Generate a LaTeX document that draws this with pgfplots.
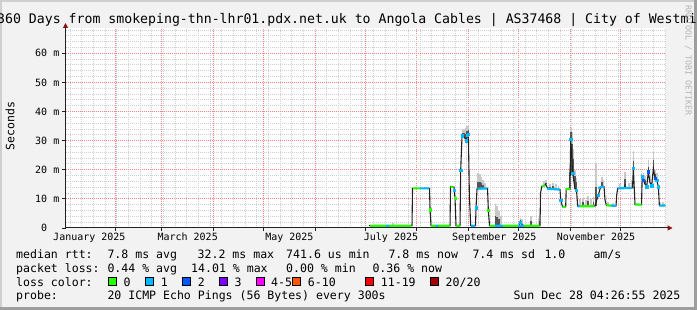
\documentclass[border=0pt]{standalone}
\usepackage{pgfplots}
\pgfplotsset{compat=1.18}
\usepackage{fontspec}
\setmainfont{DejaVu Sans Mono}
\usetikzlibrary{arrows.meta}
\definecolor{backc}{HTML}{F2F2F2}
\definecolor{shadea}{HTML}{CFCFCF}
\definecolor{shadeb}{HTML}{9E9E9E}
\definecolor{gridc}{HTML}{D0D0D0}
\definecolor{mgridc}{HTML}{F08888}
\definecolor{axisc}{HTML}{202020}
\definecolor{arrowc}{HTML}{8B1010}
\definecolor{l0}{HTML}{26FF00}
\definecolor{l1}{HTML}{00B8FF}
\definecolor{l2}{HTML}{0059FF}
\definecolor{l3}{HTML}{7E00FF}
\definecolor{l45}{HTML}{FF00FF}
\definecolor{l610}{HTML}{FF5500}
\definecolor{l1119}{HTML}{FF0000}
\definecolor{l20}{HTML}{A10000}
\definecolor{smokeL}{HTML}{C8C8C8}
\definecolor{smokeD}{HTML}{555555}
\definecolor{wmark}{HTML}{B4B4B4}
\pgfplotsset{rrdframe/.style={
  at={(65.5pt,82pt)}, anchor=south west,
  scale only axis, width=600pt, height=200pt,
  xmin=1.185, xmax=361.185, ymin=0, ymax=68.68,
  tick align=outside, tick pos=left,
  /pgf/number format/assume math mode=true,
  tick label style={font=\fontsize{10}{12}\selectfont, inner sep=0pt},
}}
\begin{document}
\begin{tikzpicture}[x=1pt,y=1pt]
\useasboundingbox (0,0) rectangle (697,310);
\fill[backc] (0,0) rectangle (697,310);
\fill[shadea] (0,0) rectangle (2,310);
\fill[shadea] (0,308) rectangle (697,310);
\fill[shadeb] (694,0) rectangle (697,310);
\fill[shadeb] (0,0) rectangle (697,3);
% grid axis: month lines (red), weekly lines (grey), 10 ms (red), 2 ms (grey)
\begin{axis}[rrdframe,
  axis background/.style={fill=white},
  axis line style={draw=none},
  xtick={31,59,90,120,151,181,212,243,273,304,334},
  minor xtick={4,11,...,361},
  ytick={0,10,...,60},
  minor ytick={2,4,...,68},
  xticklabels={}, yticklabels={},
  grid=both,
  major grid style={draw=mgridc, line width=1pt, dash pattern=on 1pt off 1pt},
  minor grid style={draw=gridc, line width=0.9pt, dash pattern=on 1pt off 1pt},
  major tick length=3pt, minor tick length=0pt,
  tick style={draw=axisc, line width=0.8pt},
]
\addplot[draw=none, forget plot] coordinates {(100,1) (200,2)};
\end{axis}
% data axis
\begin{axis}[rrdframe,
  axis lines=left,
  axis line style={draw=axisc, line width=1pt},
  every outer x axis line/.append style={-{Triangle[length=5pt,width=5pt,color=arrowc]}, shorten >=-7pt},
  every outer y axis line/.append style={-{Triangle[length=5pt,width=5pt,color=arrowc]}, shorten >=-5pt},
  xtick={15.5,74.5,135.5,196.5,258.5,319.5},
  xticklabels={January 2025,March 2025,May 2025,July 2025,September 2025,November 2025},
  ytick={0,10,...,60},
  yticklabels={0\hphantom{ m},10 m,20 m,30 m,40 m,50 m,60 m},
  major tick length=0pt, minor tick length=0pt,
  xticklabel style={anchor=north, yshift=-4.5pt},
  yticklabel style={anchor=east, xshift=-6pt},
  unbounded coords=jump,
  clip=true,
]
% smoke, light layer (vertical columns: base to top)
\addplot[draw=smokeL, line width=1.7pt, mark=none] coordinates {
(197.7,0.8)(197.7,1.6)(nan,nan)
(239.4,31.7)(239.4,33.5)(nan,nan) (240.3,31.5)(240.3,34.0)(nan,nan) (241.2,30.5)(241.2,34.5)(nan,nan) (242.1,31.8)(242.1,35.0)(nan,nan) (242.9,32.3)(242.9,35.4)(nan,nan)
(248.7,13.6)(248.7,18.8)(nan,nan) (249.7,13.6)(249.7,18.5)(nan,nan) (250.7,13.6)(250.7,17.5)(nan,nan) (251.7,13.6)(251.7,16.5)(nan,nan) (252.7,13.6)(252.7,15.5)(nan,nan)
(259.2,0.8)(259.2,8.1)(nan,nan) (260.2,0.8)(260.2,7.5)(nan,nan) (261.2,0.8)(261.2,6.0)(nan,nan) (262.3,0.8)(262.3,4.0)(nan,nan)
(274.2,2.0)(274.2,3.5)(nan,nan) (275.1,1.2)(275.1,3.0)(nan,nan) (280.3,0.8)(280.3,4.2)(nan,nan) (284.9,0.8)(284.9,3.5)(nan,nan) (285.6,0.8)(285.6,4.5)(nan,nan)
(288.3,14.5)(288.3,16.0)(nan,nan) (289.3,15.0)(289.3,16.4)(nan,nan) (291.9,13.8)(291.9,15.0)(nan,nan) (293.7,13.4)(293.7,15.3)(nan,nan) (295.5,13.4)(295.5,15.0)(nan,nan) (297.0,13.2)(297.0,14.5)(nan,nan)
(303.5,13.4)(303.5,22.0)(nan,nan) (304.3,30.5)(304.3,34.2)(nan,nan) (305.1,18.8)(305.1,33.0)(nan,nan) (306.0,16.0)(306.0,27.0)(nan,nan) (306.9,13.4)(306.9,20.0)(nan,nan) (307.8,13.0)(307.8,17.0)(nan,nan)
(309.9,7.5)(309.9,10.0)(nan,nan) (311.7,7.5)(311.7,10.3)(nan,nan) (313.5,7.5)(313.5,9.5)(nan,nan) (314.7,7.5)(314.7,11.0)(nan,nan) (316.5,7.5)(316.5,10.0)(nan,nan) (318.0,7.5)(318.0,10.8)(nan,nan)
(319.5,7.5)(319.5,22.2)(nan,nan) (322.9,14.2)(322.9,17.6)(nan,nan) (323.9,14.2)(323.9,16.5)(nan,nan) (326.7,7.8)(326.7,8.8)(nan,nan) (329.7,7.6)(329.7,8.6)(nan,nan)
(333.9,13.6)(333.9,15.0)(nan,nan) (336.9,14.8)(336.9,19.3)(nan,nan) (339.3,13.6)(339.3,15.5)(nan,nan) (340.8,13.8)(340.8,16.5)(nan,nan) (341.9,20.4)(341.9,26.4)(nan,nan)
(347.9,16.5)(347.9,19.0)(nan,nan) (348.9,15.0)(348.9,18.0)(nan,nan) (350.9,19.3)(350.9,23.3)(nan,nan) (351.9,15.5)(351.9,18.0)(nan,nan) (353.9,20.5)(353.9,26.4)(nan,nan)
(354.9,17.0)(354.9,20.0)(nan,nan) (355.9,16.5)(355.9,19.0)(nan,nan) (357.9,7.7)(357.9,9.0)(nan,nan) (359.7,7.7)(359.7,9.0)
};
% smoke, dark layer
\addplot[draw=smokeD, line width=1.7pt, mark=none] coordinates {
(239.4,31.7)(239.4,32.5)(nan,nan) (240.3,31.5)(240.3,32.6)(nan,nan) (241.2,30.5)(241.2,32.3)(nan,nan) (242.1,31.8)(242.1,33.2)(nan,nan) (242.9,32.3)(242.9,33.7)(nan,nan)
(248.7,13.6)(248.7,15.9)(nan,nan) (249.7,13.6)(249.7,15.8)(nan,nan) (250.7,13.6)(250.7,15.3)(nan,nan) (251.7,13.6)(251.7,14.9)(nan,nan)
(259.2,0.8)(259.2,4.1)(nan,nan) (260.2,0.8)(260.2,3.8)(nan,nan) (261.2,0.8)(261.2,3.1)(nan,nan)
(274.2,2.0)(274.2,2.7)(nan,nan) (280.3,0.8)(280.3,2.3)(nan,nan) (285.6,0.8)(285.6,2.5)(nan,nan)
(289.3,15.0)(289.3,15.6)(nan,nan) (293.7,13.4)(293.7,14.3)(nan,nan)
(303.5,13.4)(303.5,19.4)(nan,nan) (304.3,30.5)(304.3,33.1)(nan,nan) (305.1,18.8)(305.1,28.8)(nan,nan) (306.0,16.0)(306.0,23.7)(nan,nan) (306.9,13.4)(306.9,18.0)(nan,nan) (307.8,13.0)(307.8,15.8)(nan,nan)
(311.7,7.5)(311.7,8.8)(nan,nan) (314.7,7.5)(314.7,9.1)(nan,nan) (318.0,7.5)(318.0,9.0)(nan,nan)
(319.5,7.5)(319.5,14.1)(nan,nan) (322.9,14.2)(322.9,15.7)(nan,nan)
(336.9,14.8)(336.9,16.8)(nan,nan) (341.9,20.4)(341.9,23.1)(nan,nan)
(348.9,15.0)(348.9,16.4)(nan,nan) (350.9,19.3)(350.9,21.1)(nan,nan) (353.9,20.5)(353.9,23.2)(nan,nan) (354.9,17.0)(354.9,18.4)
};
% median step line
\addplot[draw=axisc, line width=1.1pt, mark=none] coordinates {
(183.3,0.8) (209.1,0.8) (209.4,13.6) (219.6,13.6) (219.9,6.3) (220.5,0.8)
(231.9,0.8) (232.2,14.2) (234.3,14.0) (234.9,10.2) (235.5,0.8) (237.9,0.8)
(238.3,19.8) (239.1,31.7) (240.3,31.5) (241.5,30.0) (242.3,31.8) (242.9,32.3)
(243.5,11.5) (244.3,0.8) (247.2,0.8) (247.5,7.0) (248.1,13.4) (254.4,13.6)
(254.9,6.0) (255.6,0.8) (273.3,0.8) (274.2,2.0) (275.1,1.2) (275.7,0.8)
(285.9,0.8) (286.2,11.9) (286.9,14.2) (288.3,14.5) (289.3,15.0) (290.5,13.6)
(291.9,13.8) (293.1,13.4) (297.9,13.2) (298.3,9.6) (299.4,7.3) (301.3,7.3)
(301.6,13.4) (303.9,13.4) (304.3,30.5) (305.5,18.8) (306.9,13.4) (307.8,13.0)
(308.5,7.5) (318.9,7.5) (319.9,9.6) (320.9,11.3) (321.9,13.4) (322.9,14.2)
(324.3,14.2) (324.9,9.6) (325.7,7.8) (331.5,7.6) (331.9,11.3) (332.5,13.6)
(336.3,13.8) (336.9,14.8) (337.5,13.6) (341.4,13.8) (341.9,20.4) (342.9,8.1)
(346.8,8.0) (347.2,17.6) (347.9,16.5) (348.9,15.0) (349.9,14.2) (350.9,19.3)
(351.9,15.5) (352.9,14.5) (353.9,20.5) (354.9,17.0) (355.9,16.5) (356.9,14.2)
(357.5,7.7) (361.1,7.7)
};
% loss colour 0 (green) segments
\addplot[draw=l0, line width=2.2pt, mark=none] coordinates {
(183.9,0.8) (193.5,0.8) (nan,nan)
(195.3,0.8) (208.8,0.8) (nan,nan)
(209.7,13.6) (213.9,13.6) (nan,nan)
(220.5,0.8) (223.5,0.8) (nan,nan)
(224.7,0.8) (231.9,0.8) (nan,nan)
(232.2,14.2) (234.0,14.1) (nan,nan)
(235.5,0.8) (237.9,0.8) (nan,nan)
(255.6,0.8) (258.9,0.8) (nan,nan)
(263.7,0.8) (272.7,0.8) (nan,nan)
(276.3,0.8) (285.6,0.8) (nan,nan)
(286.9,14.3) (288.9,14.6) (nan,nan)
(299.4,7.3) (301.3,7.3) (nan,nan)
(301.6,13.4) (303.9,13.4) (nan,nan)
(309.9,7.5) (318.3,7.5) (nan,nan)
(325.7,7.8) (328.5,7.7) (nan,nan)
(342.9,8.1) (346.8,8.0)
};
% loss colour 1 (light blue) segments
\addplot[draw=l1, line width=2.2pt, mark=none] coordinates {
(193.5,0.8) (195.3,0.8) (nan,nan)
(213.9,13.6) (219.3,13.6) (nan,nan)
(223.5,0.8) (224.7,0.8) (nan,nan)
(244.5,0.8) (247.0,0.8) (nan,nan)
(248.4,13.5) (254.2,13.6) (nan,nan)
(258.9,0.8) (263.7,0.8) (nan,nan)
(272.7,0.8) (276.3,0.8) (nan,nan)
(290.1,13.5) (297.9,13.2) (nan,nan)
(308.5,7.5) (309.9,7.5) (nan,nan)
(320.7,13.8) (324.3,14.2) (nan,nan)
(328.5,7.7) (331.5,7.6) (nan,nan)
(332.5,13.6) (341.2,13.8) (nan,nan)
(357.5,7.7) (361.1,7.7)
};
\addplot[only marks, mark=square*, mark size=1.1pt, mark options={draw=l1, fill=l1}] coordinates {
(234.3,13.0) (238.3,19.8) (239.1,31.7) (241.5,30.0) (242.3,31.8) (242.9,32.3)
(247.5,7.0) (274.2,2.0) (298.3,9.6) (304.3,30.5) (305.5,18.8) (307.8,13.0)
(320.9,11.3) (341.9,20.4) (347.2,17.6) (349.9,14.2) (352.9,14.5) (355.9,16.5) (356.9,14.2)
};
\addplot[only marks, mark=square*, mark size=1.1pt, mark options={draw=l2, fill=l2}] coordinates {
(347.9,16.5) (350.9,19.3) (354.9,17.0)
};
\addplot[only marks, mark=square*, mark size=1.1pt, mark options={draw=l0, fill=l0}] coordinates {
(219.9,6.3) (254.9,6.0) (234.9,10.2)
};
\end{axis}
% title
\node[anchor=base west, inner sep=0pt] at (-3,286.7) {\fontsize{13.2}{15}\selectfont 360 Days from smokeping-thn-lhr01.pdx.net.uk to Angola Cables | AS37468 | City of Westminster};
% watermark
\node[anchor=west, rotate=-90, inner sep=0pt, text=wmark] at (688.3,305) {\fontsize{8.3}{10}\selectfont RRDTOOL / TOBI OETIKER};
% y label
\node[rotate=90, inner sep=0pt] at (10,184) {\fontsize{11.5}{13}\selectfont Seconds};
% legend
\begin{scope}[every node/.style={anchor=base west, inner sep=0pt, font=\fontsize{11.55}{13}\selectfont}]
\node at (16,51.7) {median rtt:};
\node at (107.3,51.7) {7.8 ms avg};
\node at (197.5,51.7) {32.2 ms max};
\node at (286,51.7) {741.6 us min};
\node at (388.3,51.7) {7.8 ms now};
\node at (472.3,51.7) {7.4 ms sd};
\node at (544.3,51.7) {1.0};
\node at (593.3,51.7) {am/s};
\node at (16,37.7) {packet loss:};
\node at (107.3,37.7) {0.44 \% avg};
\node at (191,37.7) {14.01 \% max};
\node at (286,37.7) {0.00 \% min};
\node at (372.3,37.7) {0.36 \% now};
\node at (16,23.8) {loss color:};
\node at (123.3,23.8) {0};
\node at (160.7,23.8) {1};
\node at (197.7,23.8) {2};
\node at (234.3,23.8) {3};
\node at (271,23.8) {4-5};
\node at (307.7,23.8) {6-10};
\node at (380.7,23.8) {11-19};
\node at (445.5,23.8) {20/20};
\node at (16,10) {probe:};
\node at (107.3,10) {20 ICMP Echo Pings (56 Bytes) every 300s};
\node at (513.3,10) {Sun Dec 28 04:26:55 2025};
\end{scope}
\foreach \bx/\bc in {108.3/l0,145.7/l1,182.7/l2,219.3/l3,256/l45,292.7/l610,365.7/l1119,430.7/l20}{
  \fill[\bc] (\bx,24) rectangle ++(8,8);
  \draw[black, line width=1pt] (\bx,24) rectangle ++(8,8);
}
\end{tikzpicture}
\end{document}
